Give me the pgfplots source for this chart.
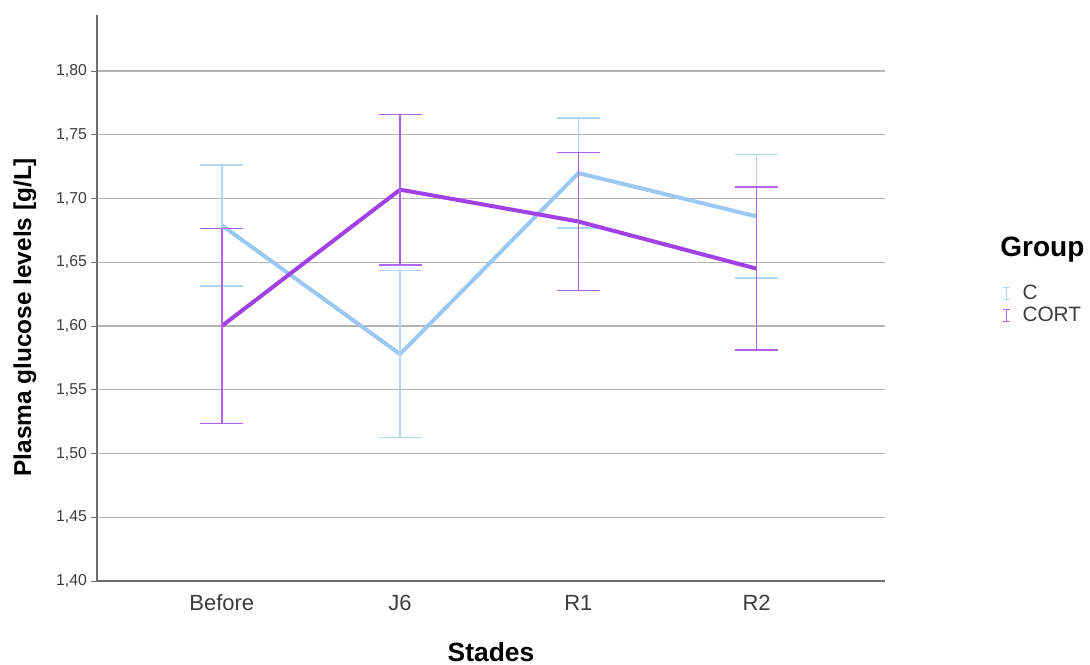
\documentclass[border=0pt]{standalone}
\usepackage{pgfplots}
\pgfplotsset{compat=1.18}
\usepackage{fontspec}
\setmainfont{Liberation Sans}
\definecolor{cline}{RGB}{155,200,242}
\definecolor{cerr}{RGB}{178,212,245}
\definecolor{kline}{RGB}{162,64,232}
\definecolor{kerr}{RGB}{175,100,240}
\definecolor{gridc}{RGB}{180,180,180}
\definecolor{axc}{RGB}{110,110,110}
\definecolor{tickc}{RGB}{60,60,60}
\pgfplotsset{ebicon/.style={legend image code/.code={
  \draw[#1, line width=0.8pt, solid] (0.1cm,-0.105cm)--(0.1cm,0.105cm)
     (0.035cm,-0.105cm)--(0.165cm,-0.105cm) (0.035cm,0.105cm)--(0.165cm,0.105cm);}}}
\begin{document}
\begin{tikzpicture}
\path[use as bounding box] (-48.5pt,-41.5pt) rectangle (496.5pt,290.5pt);
\begin{axis}[
  at={(0,0)}, anchor=south west,
  scale only axis, width=394pt, height=283pt,
  xmin=-0.7, xmax=3.72, ymin=1.40, ymax=1.844,
  axis x line*=bottom, axis y line*=left,
  axis line style={axc, line width=0.6pt, -},
  xtick={0,1,2,3}, xticklabels={Before,J6,R1,R2},
  xtick style={draw=none},
  ytick={1.40,1.45,...,1.81},
  ytick style={axc, line width=0.5pt},
  tick align=outside, major tick length=3pt,
  ymajorgrids, grid style={gridc, line width=0.6pt},
  /pgf/number format/.cd, use comma, fixed, fixed zerofill, precision=2, assume math mode=true,
  /pgfplots/.cd,
  yticklabel style={font=\fontsize{7.9}{9}\selectfont, text=tickc, xshift=1.5pt},
  xticklabel style={font=\fontsize{11}{13}\selectfont, text=tickc, yshift=-0.5pt},
  ylabel={\textbf{Plasma glucose levels [g/L]}},
  ylabel style={font=\fontsize{12.2}{14}\selectfont, at={(axis description cs:-0.0914,0.466)}, anchor=center},
  xlabel={\textbf{Stades}},
  xlabel style={font=\fontsize{13.2}{15}\selectfont, at={(axis description cs:0.5,-0.125)}, anchor=center},
  legend style={at={(axis description cs:1.148,0.528)}, anchor=north west, draw=none, fill=none,
    font=\fontsize{10.4}{12}\selectfont, row sep=0pt, inner sep=0pt, column sep=5pt,
    nodes={inner sep=0.75pt, text height=7.5pt, text depth=2pt, text=tickc}},
  legend cell align=left,
  clip=false,
]
\addplot[cline, line width=2pt, no marks, ebicon=cerr,
  error bars/.cd, y dir=both, y explicit,
  error bar style={cerr, line width=0.8pt},
  error mark options={cerr, line width=0.8pt, mark size=10.75pt, rotate=90}]
  table[x=x, y=y, y error=e] {
x y e
0 1.679 0.0475
1 1.578 0.0655
2 1.720 0.043
3 1.686 0.0485
};
\addlegendentry{C}
\addplot[kline, line width=2pt, no marks, ebicon=kerr,
  error bars/.cd, y dir=both, y explicit,
  error bar style={kerr, line width=0.8pt},
  error mark options={kerr, line width=0.8pt, mark size=10.75pt, rotate=90}]
  table[x=x, y=y, y error=e] {
x y e
0 1.600 0.0765
1 1.707 0.059
2 1.682 0.054
3 1.645 0.064
};
\addlegendentry{CORT}
\node[anchor=west, inner sep=0pt, font=\fontsize{14}{16}\selectfont\bfseries] at (axis description cs:1.146,0.585) {Group};
\end{axis}
\end{tikzpicture}
\end{document}
